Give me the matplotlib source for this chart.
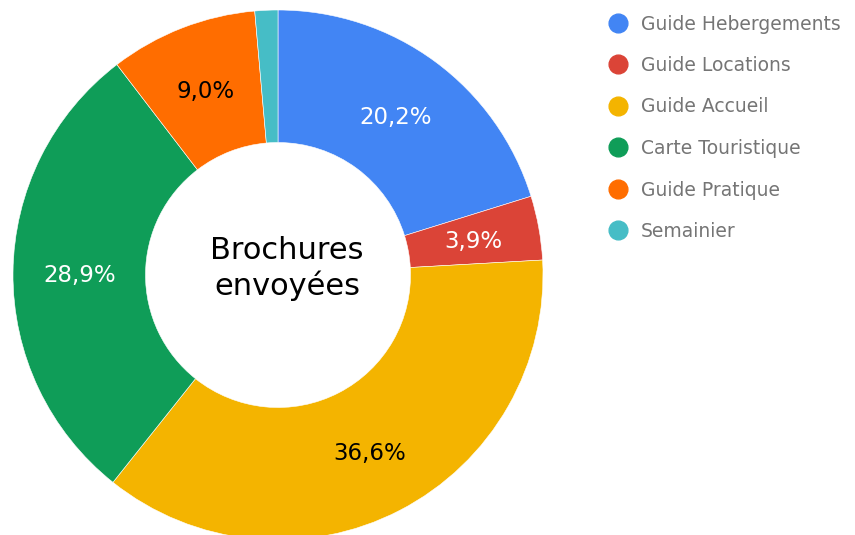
import matplotlib
matplotlib.use("Agg")
import math
import matplotlib.pyplot as plt
from matplotlib.lines import Line2D

categories = ["Guide Hebergements", "Guide Locations", "Guide Accueil",
              "Carte Touristique", "Guide Pratique", "Semainier"]
values = [20.2, 3.9, 36.6, 28.9, 9.0, 1.4]
colors = ["#4285F4", "#DB4437", "#F4B400", "#0F9D58", "#FF6D00", "#46BDC6"]
label_colors = ["white", "white", "black", "white", "black", "white"]
center_title = "Brochures\nenvoyées"

W, H = 855, 535
fig = plt.figure(figsize=(W / 100, H / 100), dpi=100)
cx, cy, R = 278, 275, 265
ax = fig.add_axes([(cx - R) / W, (H - cy - R) / H, 2 * R / W, 2 * R / H])

wedges, _ = ax.pie(values, colors=colors, startangle=90, counterclock=False,
                   radius=1.0, wedgeprops=dict(width=0.5, edgecolor="white", linewidth=0.4))
total = sum(values)
ang = 90.0
for v, w, lc in zip(values, wedges, label_colors):
    mid = ang - v / total * 360 / 2
    ang -= v / total * 360
    if v < 2:
        continue
    r = 0.75
    x = r * math.cos(math.radians(mid))
    y = r * math.sin(math.radians(mid))
    ax.text(x, y - 0.008, f"{v:.1f}%".replace(".", ","), ha="center", va="center",
            color=lc, fontsize=16.5)

ax.text(0.034, 0.025, center_title, ha="center", va="center", fontsize=22,
        color="black", linespacing=1.2)
ax.set_xlim(-1, 1)
ax.set_ylim(-1, 1)
ax.set_aspect("equal")
ax.axis("off")

handles = [Line2D([0], [0], marker="o", linestyle="none", markersize=13.5,
                  markerfacecolor=c, markeredgecolor=c) for c in colors]
leg = fig.legend(handles, categories, loc="upper left",
                 bbox_to_anchor=(599 / W, 1 - 7 / H), frameon=False,
                 fontsize=13.5, labelspacing=1.2, handletextpad=0.62,
                 handlelength=1.2, borderaxespad=0)
for t in leg.get_texts():
    t.set_color("#757575")

fig.savefig("out.png", dpi=100, facecolor="white")
